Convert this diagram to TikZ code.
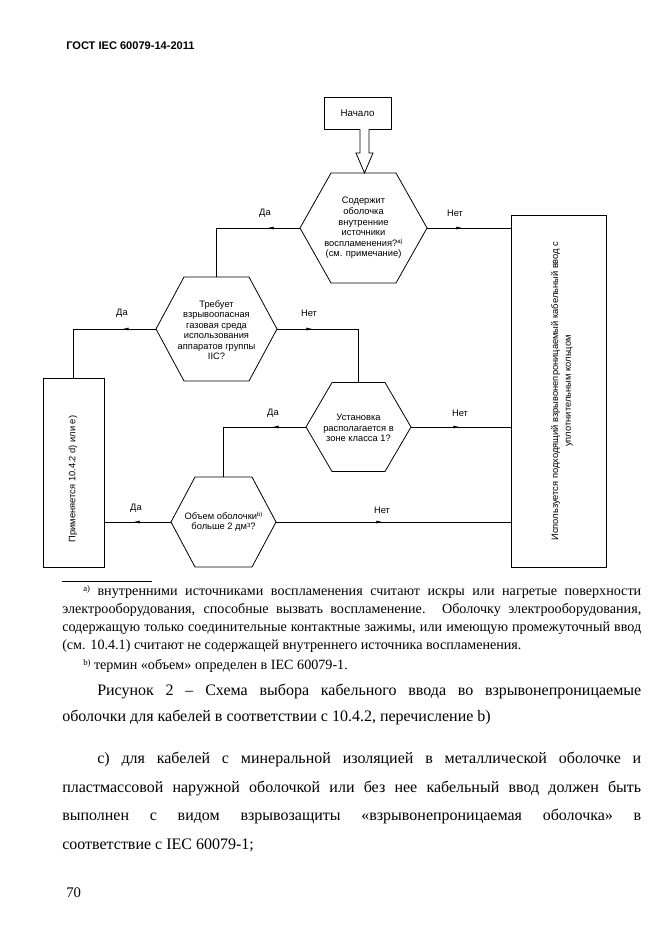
\documentclass[tikz,border=0pt]{standalone}
\usepackage{fontspec}
\setmainfont{Liberation Serif}
\newfontfamily\arialf{Liberation Sans}
\usetikzlibrary{arrows.meta,decorations.markings}

\newcommand\SupTxt[2]{\raisebox{#1}{\fontsize{#2}{#2}\selectfont}}
\newcommand\HexSup[1]{\raisebox{0.55ex}{\fontsize{4.5}{5}\selectfont #1}}
\newcommand\NoteSup[1]{\raisebox{0.6ex}{\fontsize{6.5}{7}\selectfont #1}}

\tikzset{
  ln/.style={line width=0.6pt},
  hexlbl/.style={font=\arialf\fontsize{7}{7.9}\selectfont, align=center, inner sep=0pt},
  yn/.style={font=\arialf\fontsize{7}{8}\selectfont, inner sep=0pt},
  body/.style={font=\fontsize{12}{14}\selectfont, anchor=base west, inner sep=0pt},
  fnote/.style={font=\fontsize{10.6}{12}\selectfont, anchor=base west, inner sep=0pt},
  arrowat/.style={postaction={decorate}, decoration={markings, mark=at position #1 with {\arrow{Latex[length=5pt,width=2.2pt]}}}},
}

\newcommand\HexDraw[6]{%
  \coordinate (#1) at (#2,#3);
  \coordinate (#1-w) at ({#2-#4},#3);
  \coordinate (#1-e) at ({#2+#4},#3);
  \coordinate (#1-n) at (#2,{#3-#5});
  \coordinate (#1-s) at (#2,{#3+#5});
  \draw[ln] (#1-w) -- ({#2-#6},{#3-#5}) -- ({#2+#6},{#3-#5}) -- (#1-e) -- ({#2+#6},{#3+#5}) -- ({#2-#6},{#3+#5}) -- cycle;
}

\begin{document}
\begin{tikzpicture}[x=0.75pt,y=-0.75pt]
\useasboundingbox (0,0) rectangle (661,936);
\fill[white] (0,0) rectangle (661,936);

% header
\node[anchor=base west, inner sep=0pt, font=\arialf\bfseries\fontsize{8.3}{10}\selectfont] (hdr) at (66,49) {ГОСТ IEC 60079-14-2011};

% start box
\node[draw, ln, minimum width=50.25pt, minimum height=24pt, inner sep=0pt, font=\arialf\fontsize{7.3}{8}\selectfont] (start) at (357.5,113) {Начало};

% hollow arrow
\draw[ln, fill=white] (360,129) -- (360,153) -- (356,153) -- (364.5,173) -- (373,153) -- (369,153) -- (369,129);

% hexagons
\HexDraw{h1}{363.5}{228}{63.5}{55}{32.5}
\HexDraw{h2}{216.5}{329}{60.5}{52}{32.5}
\HexDraw{h3}{358.5}{427}{52.5}{44.5}{26.5}
\HexDraw{h4}{223.5}{522}{52.5}{45}{28.5}

\node[hexlbl] (h1t) at (363.5,228) {Содержит\\оболочка\\внутренние\\источники\\воспламенения?\HexSup{а)}\\(см. примечание)};
\node[hexlbl] (h2t) at (216.5,330) {Требует\\взрывоопасная\\газовая среда\\использования\\аппаратов группы\\IIC?};
\node[hexlbl] (h3t) at (358.5,428) {Установка\\располагается в\\зоне класса 1?};
\node[hexlbl] (h4t) at (223.5,522) {Объем оболочки\HexSup{b)}\\больше 2 дм\HexSup{3}?};

% boxes
\node[draw, ln, minimum width=45.75pt, minimum height=141.75pt, inner sep=0pt] (lb) at (73.5,472.5) {};
\node[hexlbl, rotate=90] (lbt) at (73,479) {Применяется 10.4.2 d) или e)};
\node[draw, ln, minimum width=71.25pt, minimum height=264pt, inner sep=0pt] (rb) at (558.5,391) {};
\node[hexlbl, rotate=90, font=\arialf\fontsize{7}{9.6}\selectfont] (rbt) at (562,391) {Используется подходящий взрывонепроницаемый кабельный ввод с\\уплотнительным кольцом};

% connectors
\draw[ln, arrowat=24.75pt] (h1-w) -| (h2-n);
\draw[ln, arrowat=27pt] (h1-e) -- (h1-e -| rb.west);
\draw[ln, arrowat=25.5pt] (h2-w) -| (lb.north);
\draw[ln, arrowat=27pt] (h2-e) -| (h3-n);
\draw[ln, arrowat=25.5pt] (h3-w) -| (h4-n);
\draw[ln, arrowat=36.75pt] (h3-e) -- (h3-e -| rb.west);
\draw[ln, arrowat=28.5pt] (h4-w) -- (h4-w -| lb.east);
\draw[ln, arrowat=80.25pt] (h4-e) -- (h4-e -| rb.west);

% labels
\node[yn] (l1) at (265,213) {Да};
\node[yn] (l2) at (455,213) {Нет};
\node[yn] (l3) at (122,313) {Да};
\node[yn] (l4) at (309,313) {Нет};
\node[yn] (l5) at (273,413) {Да};
\node[yn] (l6) at (460,413) {Нет};
\node[yn] (l7) at (136,508) {Да};
\node[yn] (l8) at (382,510) {Нет};

% footnotes
\coordinate (fr1) at (62,581);
\coordinate (fr2) at (152,581);
\draw[line width=0.6pt] (fr1) -- (fr2);
\node[fnote] (f1) at (83,595) {\makebox[418.5pt][s]{\NoteSup{а)} внутренними источниками воспламенения считают искры или нагретые поверхности}};
\node[fnote] (f2) at (62,613) {\makebox[434.25pt][s]{электрооборудования, способные вызвать воспламенение. Оболочку электрооборудования,}};
\node[fnote] (f3) at (62,631) {\makebox[434.25pt][s]{содержащую только соединительные контактные зажимы, или имеющую промежуточный ввод}};
\node[fnote] (f4) at (62,649) {(см. 10.4.1) считают не содержащей внутреннего источника воспламенения.};
\node[fnote] (f5) at (83,669) {\NoteSup{b)} термин «объем» определен в IEC 60079-1.};

% caption
\node[body] (c1) at (97,695) {\makebox[408pt][s]{Рисунок 2 – Схема выбора кабельного ввода во взрывонепроницаемые}};
\node[body] (c2) at (62,721) {оболочки для кабелей в соответствии с 10.4.2, перечисление b)};

% paragraph
\node[body] (p1) at (97,763) {\makebox[408pt][s]{с) для кабелей с минеральной изоляцией в металлической оболочке и}};
\node[body] (p2) at (62,792) {\makebox[434.25pt][s]{пластмассовой наружной оболочкой или без нее кабельный ввод должен быть}};
\node[body] (p3) at (62,820) {\makebox[434.25pt][s]{выполнен с видом взрывозащиты «взрывонепроницаемая оболочка» в}};
\node[body] (p4) at (62,849) {соответствие с IEC 60079-1;};

% page number
\node[body, font=\fontsize{11}{12}\selectfont] (pg) at (66,897) {70};
\end{tikzpicture}
\end{document}
